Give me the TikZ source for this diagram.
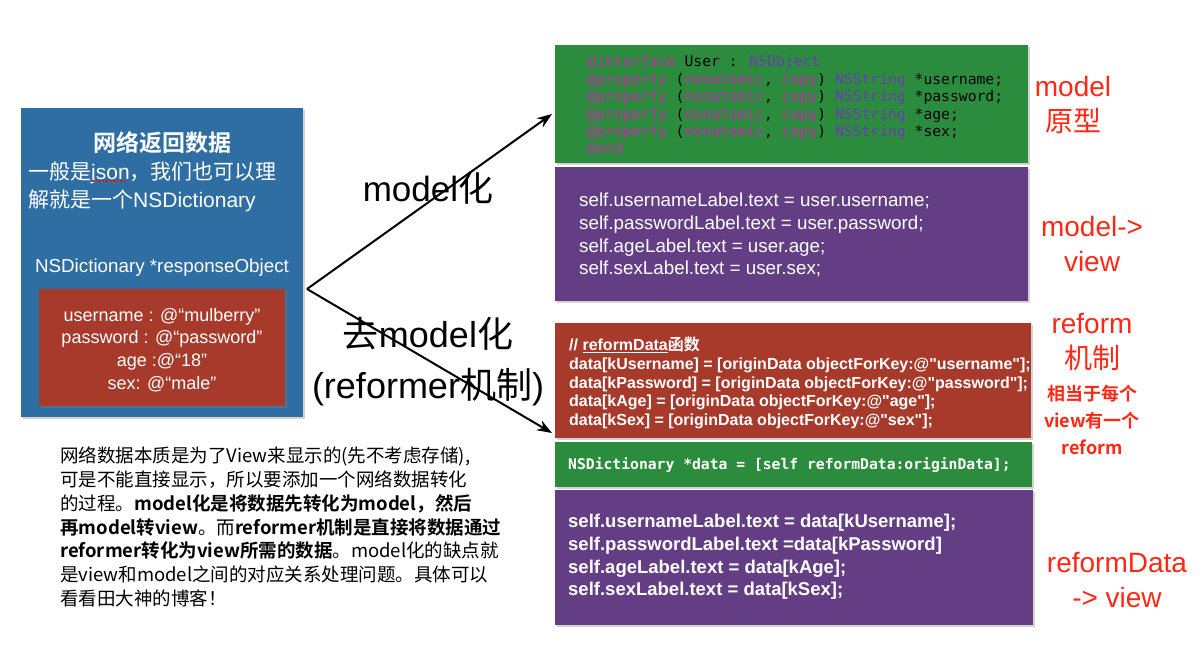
\documentclass[tikz,border=0pt]{standalone}
\usepackage{fontspec}
\setmainfont{Liberation Sans}[Ligatures=TeXOff]
\newfontfamily\cjk{Noto Sans CJK SC}[BoldFont={Noto Sans CJK SC Bold}]
\newfontfamily\code{DejaVu Sans Mono}
\usetikzlibrary{positioning, arrows.meta, shadows}

\definecolor{netblue}{RGB}{46,110,163}
\definecolor{dictred}{RGB}{168,58,44}
\definecolor{codegreen}{RGB}{44,140,62}
\definecolor{viewpurple}{RGB}{100,62,132}
\definecolor{notered}{RGB}{255,40,20}
\definecolor{kwpink}{RGB}{192,48,168}
\definecolor{clspurple}{RGB}{108,60,178}

\begin{document}
\begin{tikzpicture}[
    x=1pt, y=-1pt,
    card/.style={fill=#1, draw=none, inner sep=0pt, anchor=north west,
        drop shadow={shadow xshift=1.5pt, shadow yshift=-2pt, opacity=0.35}},
    txt/.style={inner sep=0pt, anchor=west, align=left},
    mid/.style={inner sep=0pt, align=center},
    note/.style={text=notered, inner sep=0pt, align=center, font=\fontsize{28}{35}\selectfont},
    link/.style={line width=2pt, -{Stealth[length=15pt, width=11pt]}}
]
\useasboundingbox (0,0) rectangle (1201,671);

% 左边: 网络数据
\node[card=netblue, minimum width=282pt, minimum height=309pt] (net) at (21,108) {};
\node[card=dictred, minimum width=246pt, minimum height=117pt] (dict) at (39,289) {};

\node[mid, text=white, font=\cjk\bfseries\fontsize{23}{28}\selectfont] (netTitle) at (162,143) {网络返回数据};
\node[txt, text=white, font=\fontsize{21}{28}\selectfont] (netIntro) at (28,187)
    {{\cjk 一般是}json{\cjk ，我们也可以理}\\{\cjk 解就是一个}NSDictionary};
\draw[red, dotted, line width=1.5pt] (92,181) -- (127,181);
\node[mid, text=white, font=\fontsize{18.8}{20}\selectfont] (respLabel) at (162,268) {NSDictionary *responseObject};
\node[mid, text=white, font=\fontsize{18}{22.7}\selectfont] (dictText) at (162,350)
    {username : @“mulberry”\\password : @“password”\\age :@“18”\\sex: @“male”};

% 说明文字
\node[txt, font=\cjk\fontsize{18.5}{23.8}\selectfont] (remark) at (60,527)
    {网络数据本质是为了View来显示的(先不考虑存储),\\
     可是不能直接显示，所以要添加一个网络数据转化\\
     的过程。\textbf{model化是将数据先转化为model，然后}\\
     \textbf{再model转view}。而\textbf{reformer机制是直接将数据通过}\\
     \textbf{reformer转化为view所需的数据}。model化的缺点就\\
     是view和model之间的对应关系处理问题。具体可以\\
     看看田大神的博客！};

% 右边: model 路线
\node[card=codegreen, minimum width=473pt, minimum height=118pt] (model) at (555,45) {};
\node[card=viewpurple, minimum width=473pt, minimum height=134pt] (mview) at (555,167) {};
\node[txt, font=\code\fontsize{14.7}{17.4}\selectfont] (modelCode) at (587,106)
    {\textcolor{kwpink}{@interface} User : \textcolor{clspurple}{NSObject}\\
     \textcolor{kwpink}{@property} (\textcolor{kwpink}{nonatomic}, \textcolor{kwpink}{copy}) \textcolor{clspurple}{NSString} *username;\\
     \textcolor{kwpink}{@property} (\textcolor{kwpink}{nonatomic}, \textcolor{kwpink}{copy}) \textcolor{clspurple}{NSString} *password;\\
     \textcolor{kwpink}{@property} (\textcolor{kwpink}{nonatomic}, \textcolor{kwpink}{copy}) \textcolor{clspurple}{NSString} *age;\\
     \textcolor{kwpink}{@property} (\textcolor{kwpink}{nonatomic}, \textcolor{kwpink}{copy}) \textcolor{clspurple}{NSString} *sex;\\
     \textcolor{kwpink}{@end}};
\node[txt, text=white, font=\fontsize{18.8}{22.8}\selectfont] (mviewCode) at (579,235)
    {self.usernameLabel.text = user.username;\\
     self.passwordLabel.text = user.password;\\
     self.ageLabel.text = user.age;\\
     self.sexLabel.text = user.sex;};

% 右边: reformer 路线
\node[card=dictred, minimum width=476pt, minimum height=115pt] (reform) at (555,323) {};
\node[card=codegreen, minimum width=477pt, minimum height=45pt] (call) at (555,442) {};
\node[card=viewpurple, minimum width=478pt, minimum height=135pt] (rview) at (555,490) {};
\node[txt, text=white, font=\bfseries\fontsize{16}{18.6}\selectfont] (reformCode) at (569,383)
    {// \underline{reformData}{\cjk 函数}\\
     data[kUsername] = [originData objectForKey:@"username"];\\
     data[kPassword] = [originData objectForKey:@"password"];\\
     data[kAge] = [originData objectForKey:@"age"];\\
     data[kSex] = [originData objectForKey:@"sex"];};
\node[txt, text=white, font=\code\bfseries\fontsize{14.7}{17}\selectfont] (callCode) at (568,465)
    {NSDictionary *data = [self reformData:originData];};
\node[txt, text=white, font=\bfseries\fontsize{18.5}{22.7}\selectfont] (rviewCode) at (568,557)
    {self.usernameLabel.text = data[kUsername];\\
     self.passwordLabel.text =data[kPassword]\\
     self.ageLabel.text = data[kAge];\\
     self.sexLabel.text = data[kSex];};

% 红色注释
\node[note] (protoNote) at (1073,105) {model\\{\cjk 原型}};
\node[note] (mviewNote) at (1092,244) {model->\\view};
\node[note] (reformNote) at (1092,342) {reform\\{\cjk 机制}};
\node[note, font=\cjk\bfseries\fontsize{18}{27}\selectfont] (eachNote) at (1092,420) {相当于每个\\view有一个\\reform};
\node[note] (rviewNote) at (1117,580) {reformData\\-> view};

% 箭头
\node[mid, font=\fontsize{35}{40}\selectfont] (toModel) at (428,188) {model{\cjk 化}};
\node[mid, font=\fontsize{36}{51}\selectfont] (toReform) at (428,362) {{\cjk 去}model{\cjk 化}\\({reformer}{\cjk 机制})};
\coordinate (fork) at (307,289);
\coordinate (modelTip) at (552,114);
\coordinate (reformTip) at (552,433);
\draw[link] (fork) -- (modelTip);
\draw[link] (fork) -- (reformTip);
\end{tikzpicture}
\end{document}
